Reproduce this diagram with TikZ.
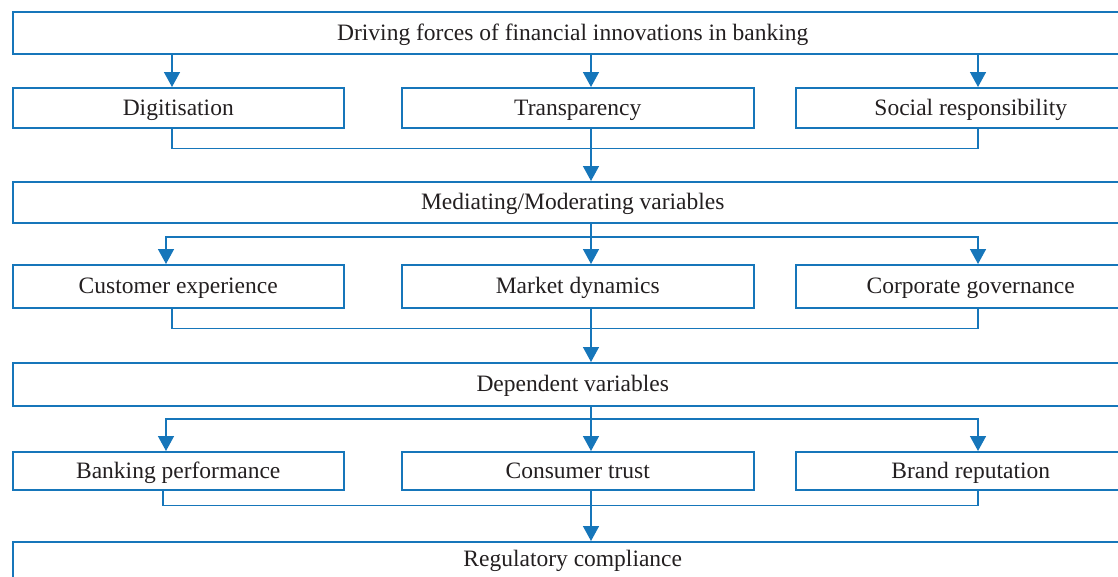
\documentclass[tikz,border=0pt]{standalone}
\usepackage{fontspec}
\setmainfont{Liberation Serif}
\usetikzlibrary{arrows.meta}
\definecolor{flowblue}{RGB}{22,118,186}
\definecolor{inkgray}{RGB}{35,31,32}
\begin{document}
\begin{tikzpicture}[x=1pt,y=-1pt,
  box/.style={draw=flowblue, line width=1.5pt, anchor=north west, inner sep=0pt,
    text=inkgray, font=\fontsize{23.5}{26}\selectfont,
    text height=19pt, text depth=4pt},
  wide/.style={box, minimum width=1120pt},
  left/.style={box, minimum width=331pt},
  mid/.style={box, minimum width=352pt},
  right/.style={box, minimum width=350pt},
  link/.style={draw=flowblue, line width=1.5pt},
  arr/.style={link, -{Triangle[width=16pt,length=15pt]}}]
\useasboundingbox (0,0) rectangle (1118,576);
\clip (0,0) rectangle (1118,576);

% column positions of the connectors
\coordinate (c1) at (172,0);
\coordinate (c1b) at (166,0);
\coordinate (c1c) at (163,0);
\coordinate (c2) at (591,0);
\coordinate (c3) at (978,0);

% boxes
\node[wide, minimum height=42pt] (top) at (12,11) {Driving forces of financial innovations in banking};
\node[left, minimum height=40pt] (dig) at (12,87) {Digitisation};
\node[mid, minimum height=40pt] (tra) at (401,87) {Transparency};
\node[right, minimum height=40pt] (soc) at (795,87) {Social responsibility};
\node[wide, minimum height=41pt] (med) at (12,181) {Mediating/Moderating variables};
\node[left, minimum height=43pt] (cus) at (12,264) {Customer experience};
\node[mid, minimum height=43pt] (mar) at (401,264) {Market dynamics};
\node[right, minimum height=43pt] (cor) at (795,264) {Corporate governance};
\node[wide, minimum height=43pt] (dep) at (12,362) {Dependent variables};
\node[left, minimum height=38pt] (ban) at (12,451) {Banking performance};
\node[mid, minimum height=38pt] (con) at (401,451) {Consumer trust};
\node[right, minimum height=38pt] (bra) at (795,451) {Brand reputation};
\node[wide, minimum height=60pt, text height=15pt, text depth=25pt] (reg) at (12,541) {Regulatory compliance};

% driving forces to the three drivers
\draw[arr] (top.south -| c1) -- (dig.north -| c1);
\draw[arr] (top.south -| c2) -- (tra.north -| c2);
\draw[arr] (top.south -| c3) -- (soc.north -| c3);

% drivers merge into the mediating variables
\draw[link] (dig.south -| c1) -- ++(0,20) -| (soc.south -| c3);
\draw[arr] (tra.south -| c2) -- (med.north -| c2);

% mediating variables fan out
\coordinate (m1) at (591,237);
\draw[link] (med.south -| c2) -- (m1);
\draw[arr] (m1) -| (cus.north -| c1b);
\draw[arr] (m1) -- (mar.north -| c2);
\draw[arr] (m1) -| (cor.north -| c3);

% moderators merge into the dependent variables
\draw[link] (cus.south -| c1) -- ++(0,20) -| (cor.south -| c3);
\draw[arr] (mar.south -| c2) -- (dep.north -| c2);

% dependent variables fan out
\coordinate (d1) at (591,419);
\draw[link] (dep.south -| c2) -- (d1);
\draw[arr] (d1) -| (ban.north -| c1b);
\draw[arr] (d1) -- (con.north -| c2);
\draw[arr] (d1) -| (bra.north -| c3);

% outcomes merge into regulatory compliance
\draw[link] (ban.south -| c1c) -- ++(0,15) -| (bra.south -| c3);
\draw[arr] (con.south -| c2) -- (reg.north -| c2);
\end{tikzpicture}
\end{document}
